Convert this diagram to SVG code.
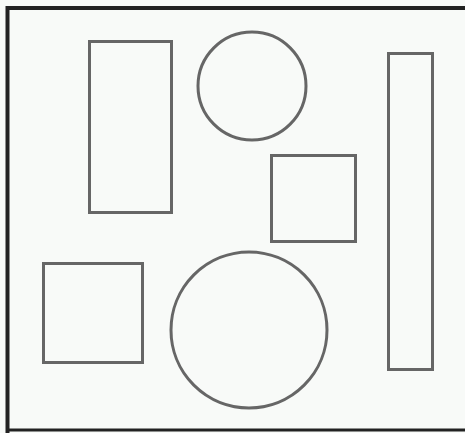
<svg xmlns="http://www.w3.org/2000/svg" width="465" height="433" viewBox="0 0 465 433">
<style>
.s{fill:none;stroke:#666;stroke-width:3}
</style>
<rect x="0" y="0" width="465" height="433" fill="#f8faf8"/>
<path d="M7.5,433 V8 H465" fill="none" stroke="#222" stroke-width="4"/>
<path d="M7,430 H465" fill="none" stroke="#222" stroke-width="3"/>
<g id="rect1"><rect class="s" x="89.5" y="41.5" width="82" height="171"/></g>
<g id="circle1"><circle class="s" cx="252" cy="86" r="54"/></g>
<g id="square1"><rect class="s" x="271.5" y="155.5" width="84" height="86"/></g>
<g id="tall"><rect class="s" x="388.5" y="53.5" width="44" height="316"/></g>
<g id="square2"><rect class="s" x="43.5" y="263.5" width="99" height="99"/></g>
<g id="circle2"><circle class="s" cx="249" cy="330" r="78"/></g>
<g id="connectors"></g>
</svg>
